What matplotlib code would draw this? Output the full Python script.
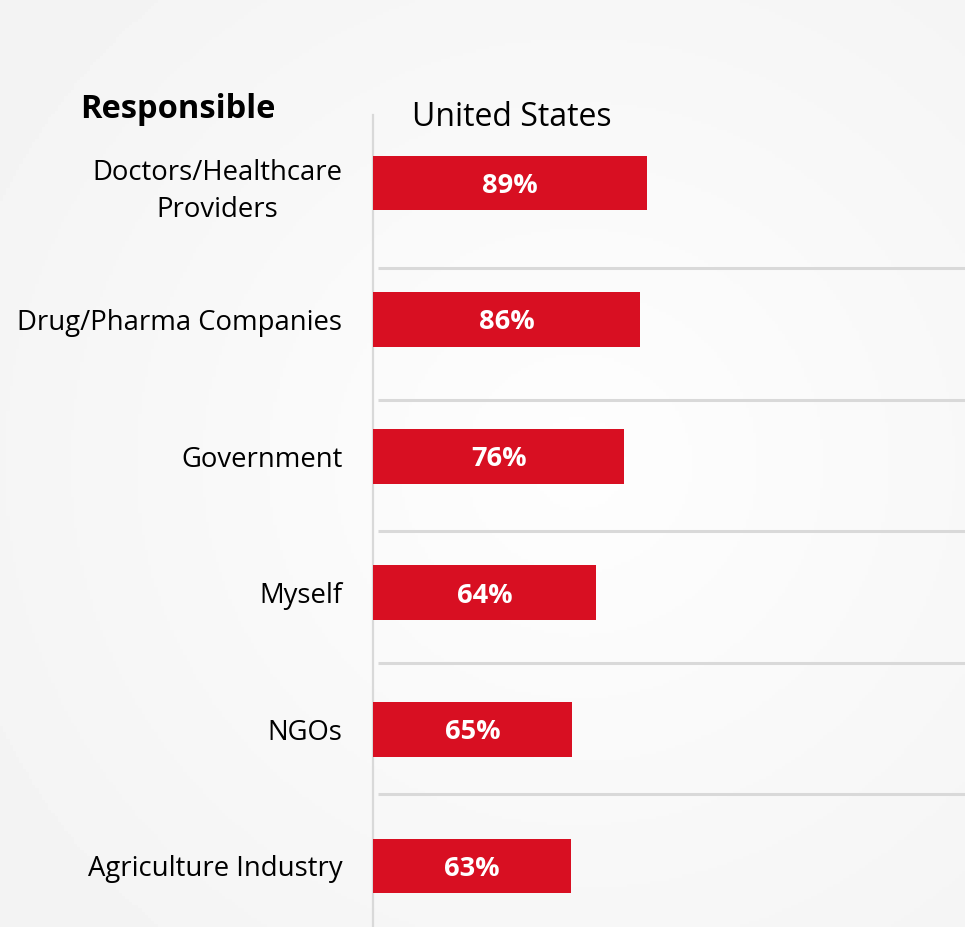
import numpy as np
import matplotlib.pyplot as plt

# data
categories = ["Doctors/Healthcare\nProviders", "Drug/Pharma Companies", "Government",
              "Myself", "NGOs", "Agriculture Industry"]
pct_labels = [89, 86, 76, 64, 65, 63]          # numbers printed in the bars
bar_lengths = [89, 86.7, 81.5, 72.4, 64.6, 64.3]  # drawn bar lengths (not equal to labels on the slide)

red = "#d80f22"
grey = "#d9d9d9"
font = "Open Sans"

fig = plt.figure(figsize=(9.65, 9.27), dpi=100)
fig.patch.set_facecolor("#f6f6f6")

# soft radial background like the slide
bg = fig.add_axes([0, 0, 1, 1], zorder=-1)
gx, gy = np.meshgrid(np.linspace(0, 1, 300), np.linspace(0, 1, 300))
r = np.sqrt((gx - 0.6) ** 2 + (gy - 0.5) ** 2)
bg.imshow(0.995 - 0.04 * np.clip(r / 0.7, 0, 1), cmap="gray", vmin=0, vmax=1,
          extent=[0, 1, 0, 1], aspect="auto")
bg.axis("off")

ax = fig.add_axes([373 / 965, 0, 1 - 373 / 965, 1 - 115 / 927])
ax.patch.set_alpha(0)

y = np.arange(len(categories))
ax.barh(y, bar_lengths, height=0.40, color=red, zorder=3)
for i in range(len(categories)):
    ax.text(bar_lengths[i] / 2, y[i] + 0.02, str(pct_labels[i]) + "%", ha="center", va="center",
            color="white", fontsize=19.5, fontweight="bold", family=font, zorder=4)

# separators between rows
sep_y = [0.622, 1.585, 2.548, 3.514, 4.473]
ax.hlines(sep_y, 1.6, 192, color=grey, lw=2.2, zorder=2)

ax.set_xlim(0, 192)
ax.set_ylim(5.447, -0.498)
ax.set_xticks([])
ax.set_yticks(y)
ax.set_yticklabels(categories, fontsize=19.8, family=font, linespacing=1.45)
for lbl in ax.get_yticklabels():
    lbl.set_multialignment("center")
ax.tick_params(axis="y", length=0, pad=22)
for s in ["top", "right", "bottom"]:
    ax.spines[s].set_visible(False)
ax.spines["left"].set_color(grey)
ax.spines["left"].set_linewidth(1.6)

fig.text(178 / 965, 1 - 109 / 927, "Responsible", ha="center", va="center",
         fontsize=23.5, fontweight="bold", family=font)
fig.text(512 / 965, 1 - 118 / 927, "United States", ha="center", va="center",
         fontsize=23, family=font)

plt.savefig("out.png", dpi=100, facecolor=fig.get_facecolor())
